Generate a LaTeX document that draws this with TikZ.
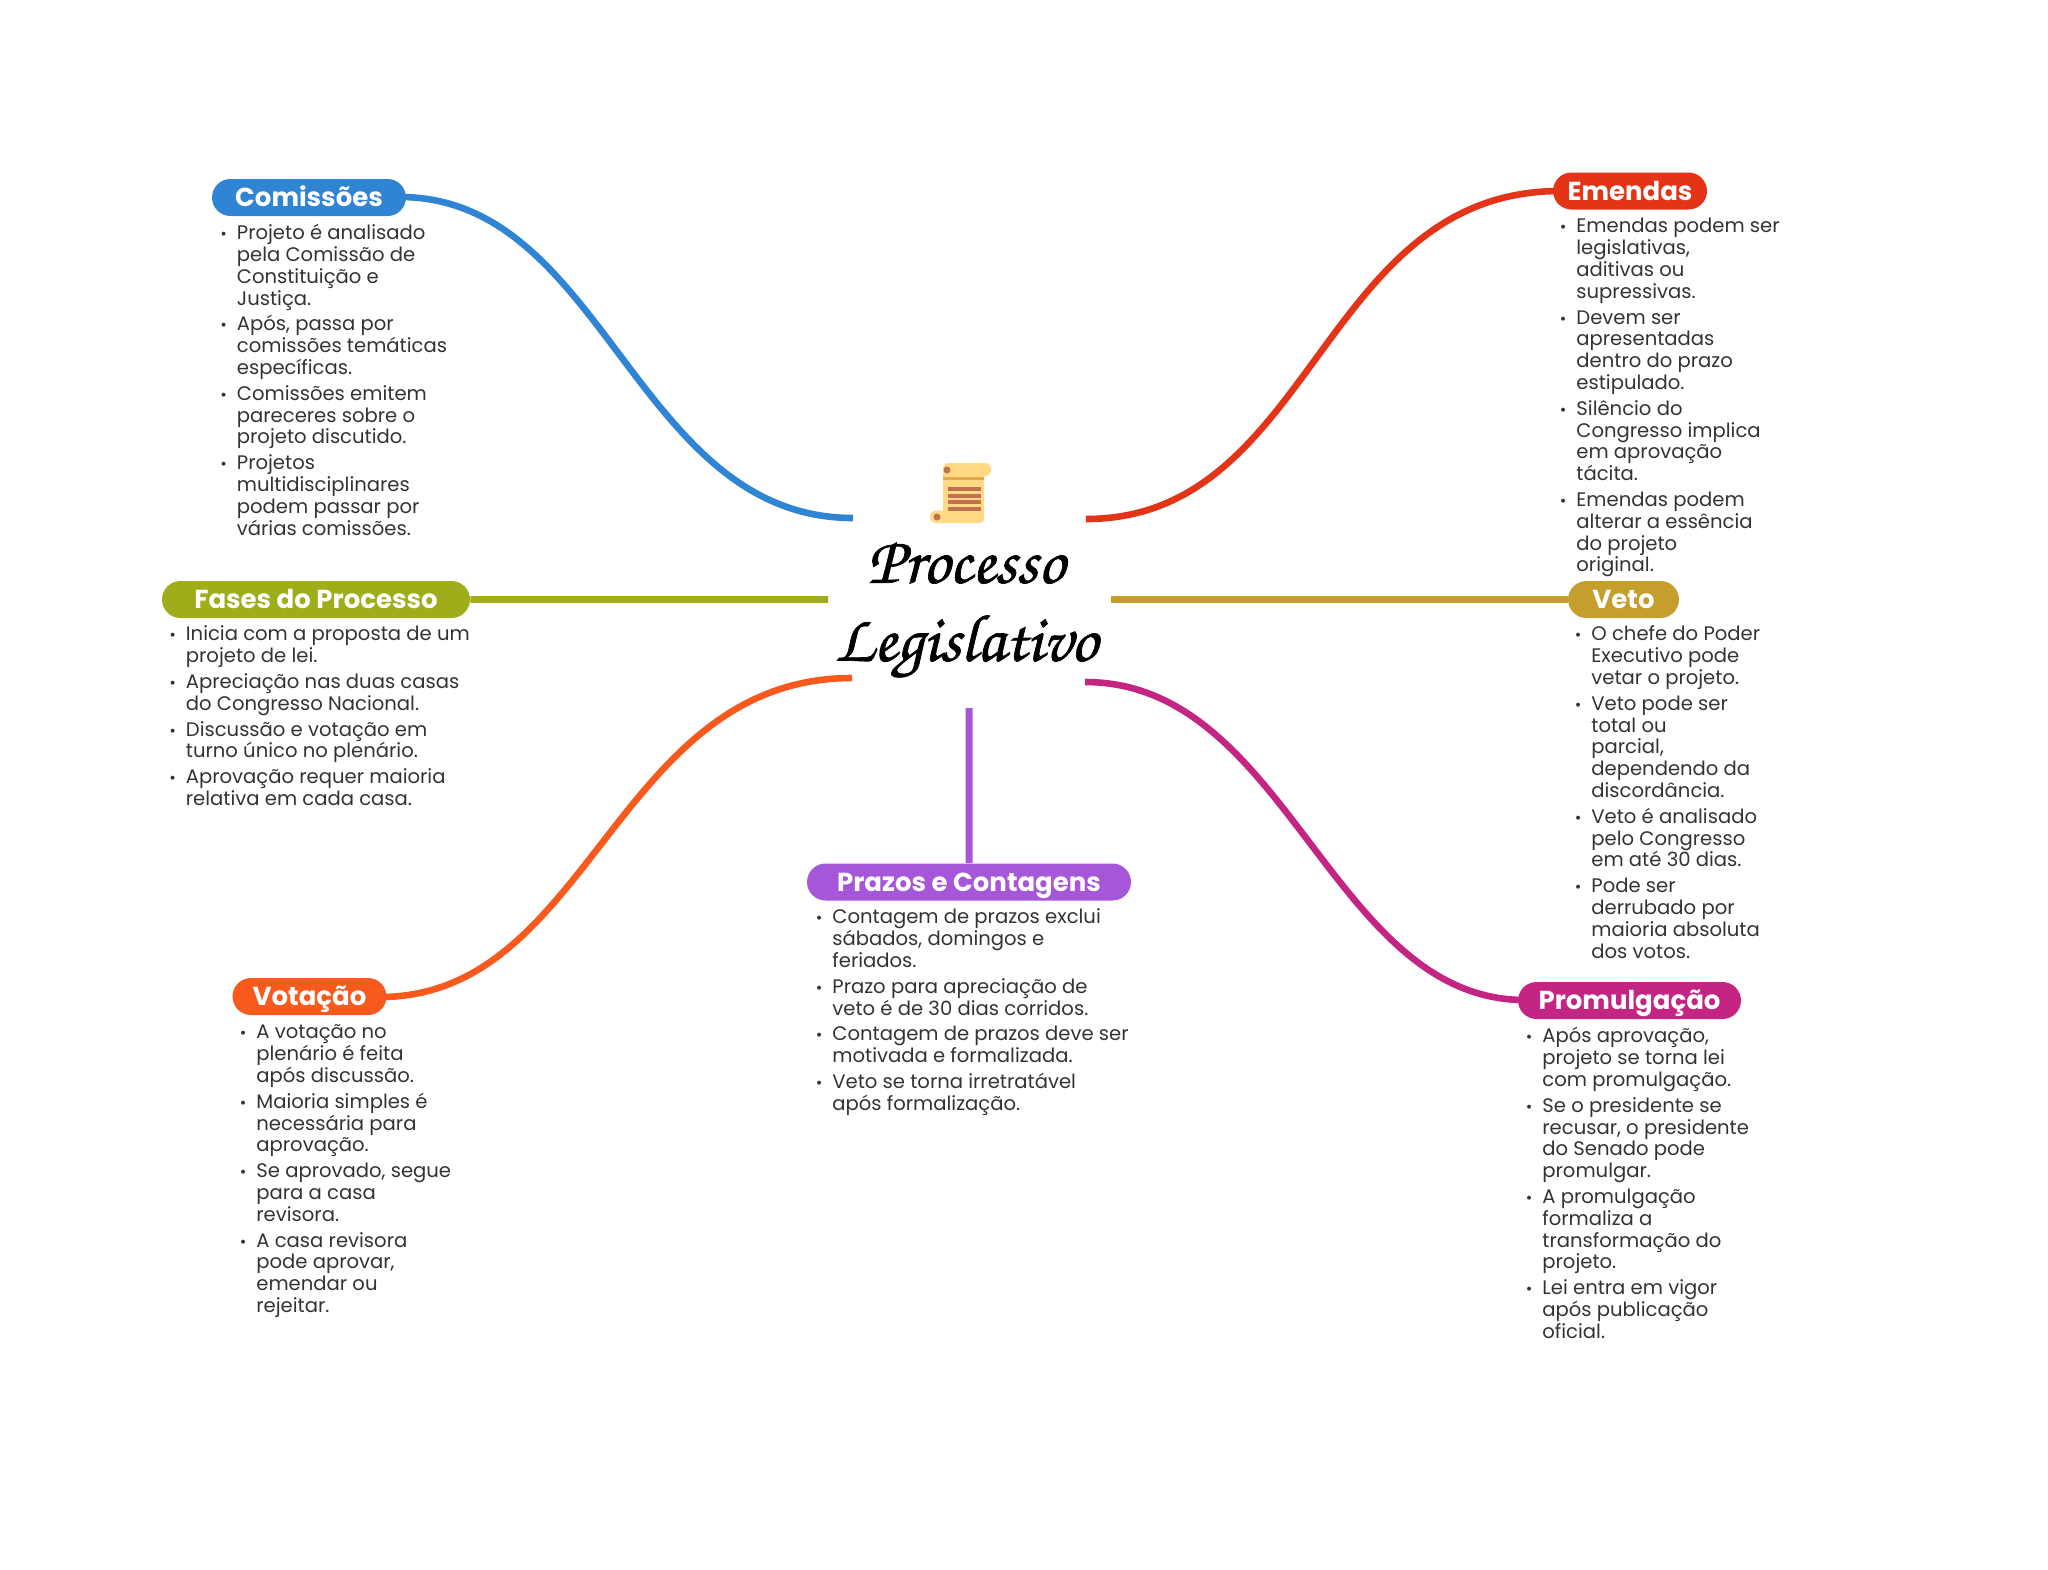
\documentclass[tikz,border=0pt]{standalone}
\usepackage{fontspec}
\setmainfont{Poppins}
\newfontfamily\titlefont[FakeBold=1]{TeX Gyre Chorus}
\usepackage{xcolor}
\usetikzlibrary{positioning, shapes.misc}
\definecolor{ccom}{HTML}{2F84D3}
\definecolor{cema}{HTML}{E33418}
\definecolor{cfas}{HTML}{A0AD1B}
\definecolor{cvet}{HTML}{C59E2E}
\definecolor{cpra}{HTML}{A656D8}
\definecolor{cvot}{HTML}{F8591D}
\definecolor{cpro}{HTML}{C42582}
\definecolor{ctxt}{HTML}{333333}
\definecolor{spaper}{HTML}{FFD984}
\definecolor{sband}{HTML}{E5AA4E}
\definecolor{sink}{HTML}{C0714F}
\newcommand{\li}{\rule{0pt}{8pt}\llap{{\footnotesize•}\hspace{5pt}}}

\begin{document}
\begin{tikzpicture}[x=0.5pt, y=-0.5pt, line cap=butt,
    pill/.style={rounded rectangle, inner sep=0pt, minimum height=18.5pt, text=white,
      text height=11.3pt, text depth=2pt, font=\fontsize{13}{13}\selectfont\bfseries},
    lst/.style={anchor=north west, inner sep=0pt, align=left, text=ctxt,
      font=\fontsize{9.8}{10.9}\selectfont},
    lnk/.style={line width=3.3pt}]
    \useasboundingbox (0,0) rectangle (2048,1569);

    % hub ends
    \coordinate (hcom) at (853,518);
    \coordinate (hema) at (1086,519);
    \coordinate (hfas) at (828,599.5);
    \coordinate (hvet) at (1111,599.5);
    \coordinate (hvot) at (852,678);
    \coordinate (hpro) at (1085,682);
    \coordinate (hpra) at (969,708);

    % links first, pills go over them
    \coordinate (acom) at (400,197);
    \coordinate (aema) at (1560,191);
    \coordinate (avot) at (380,997);
    \coordinate (apro) at (1525,1000);
    \draw[lnk, ccom] (acom) .. controls (605,197) and (635,518) .. (hcom);
    \draw[lnk, cema] (hema) .. controls (1314,519) and (1320,191) .. (aema);
    \draw[lnk, cvot] (avot) .. controls (591,997) and (615,678) .. (hvot);
    \draw[lnk, cpro] (hpro) .. controls (1288,682) and (1331,1000) .. (apro);

    % pills
    \node[pill, fill=ccom, minimum width=97pt] (com) at (309,197.5) {Comissões};
    \node[pill, fill=cema, minimum width=77pt] (ema) at (1630,191) {Emendas};
    \node[pill, fill=cfas, minimum width=154pt] (fas) at (316,599.5) {Fases do Processo};
    \node[pill, fill=cvet, minimum width=55.5pt] (vet) at (1623.5,599.5) {Veto};
    \node[pill, fill=cpra, minimum width=162pt] (pra) at (969,882) {Prazos e Contagens};
    \node[pill, fill=cvot, minimum width=77pt] (vot) at (309.5,996.5) {Votação};
    \node[pill, fill=cpro, minimum width=111.5pt] (pro) at (1629.5,1000.5) {Promulgação};

    \draw[lnk, cfas] (fas) -- (hfas);
    \draw[lnk, cvet] (hvet) -- (vet);
    \draw[line width=3.5pt, cpra] (hpra) -- (pra);

    % lists
    \node[lst] (lcom) at (236.5,223.3) {\li Projeto é analisado\\pela Comissão de\\Constituição e\\Justiça.\\[2pt]
      \li Após, passa por\\comissões temáticas\\específicas.\\[2pt]
      \li Comissões emitem\\pareceres sobre o\\projeto discutido.\\[2pt]
      \li Projetos\\multidisciplinares\\podem passar por\\várias comissões.};
    \node[lst] (lema) at (1576,216.5) {\li Emendas podem ser\\legislativas,\\aditivas ou\\supressivas.\\[2pt]
      \li Devem ser\\apresentadas\\dentro do prazo\\estipulado.\\[2pt]
      \li Silêncio do\\Congresso implica\\em aprovação\\tácita.\\[2pt]
      \li Emendas podem\\alterar a essência\\do projeto\\original.};
    \node[lst] (lfas) at (185.5,624.5) {\li Inicia com a proposta de um\\projeto de lei.\\[2pt]
      \li Apreciação nas duas casas\\do Congresso Nacional.\\[2pt]
      \li Discussão e votação em\\turno único no plenário.\\[2pt]
      \li Aprovação requer maioria\\relativa em cada casa.};
    \node[lst] (lvet) at (1591,624.5) {\li O chefe do Poder\\Executivo pode\\vetar o projeto.\\[2pt]
      \li Veto pode ser\\total ou\\parcial,\\dependendo da\\discordância.\\[2pt]
      \li Veto é analisado\\pelo Congresso\\em até 30 dias.\\[2pt]
      \li Pode ser\\derrubado por\\maioria absoluta\\dos votos.};
    \node[lst] (lpra) at (832,907.5) {\li Contagem de prazos exclui\\sábados, domingos e\\feriados.\\[2pt]
      \li Prazo para apreciação de\\veto é de 30 dias corridos.\\[2pt]
      \li Contagem de prazos deve ser\\motivada e formalizada.\\[2pt]
      \li Veto se torna irretratável\\após formalização.};
    \node[lst] (lvot) at (256,1022.5) {\li A votação no\\plenário é feita\\após discussão.\\[2pt]
      \li Maioria simples é\\necessária para\\aprovação.\\[2pt]
      \li Se aprovado, segue\\para a casa\\revisora.\\[2pt]
      \li A casa revisora\\pode aprovar,\\emendar ou\\rejeitar.};
    \node[lst] (lpro) at (1542,1026.5) {\li Após aprovação,\\projeto se torna lei\\com promulgação.\\[2pt]
      \li Se o presidente se\\recusar, o presidente\\do Senado pode\\promulgar.\\[2pt]
      \li A promulgação\\formaliza a\\transformação do\\projeto.\\[2pt]
      \li Lei entra em vigor\\após publicação\\oficial.};

    % title
    \node[inner sep=0pt, align=center, font=\titlefont\fontsize{33.5}{39}\selectfont] (hub) at (966,610) {Processo\\Legislativo};

    % scroll icon
    \fill[rounded corners=3pt, spaper] (943,463) rectangle (991,476);
    \fill[rounded corners=2pt, spaper] (943,470) rectangle (984,523);
    \fill[rounded corners=3pt, spaper] (930,510.5) rectangle (950,523);
    \fill[sband] (943,477) rectangle (984,480);
    \foreach \yy in {487,494,500,507} \fill[sink] (948,\yy) rectangle (981,\yy+4);
    \fill[sink] (947,470) circle (3.5);
    \fill[sink] (937,517) circle (3.5);
  \end{tikzpicture}
\end{document}
